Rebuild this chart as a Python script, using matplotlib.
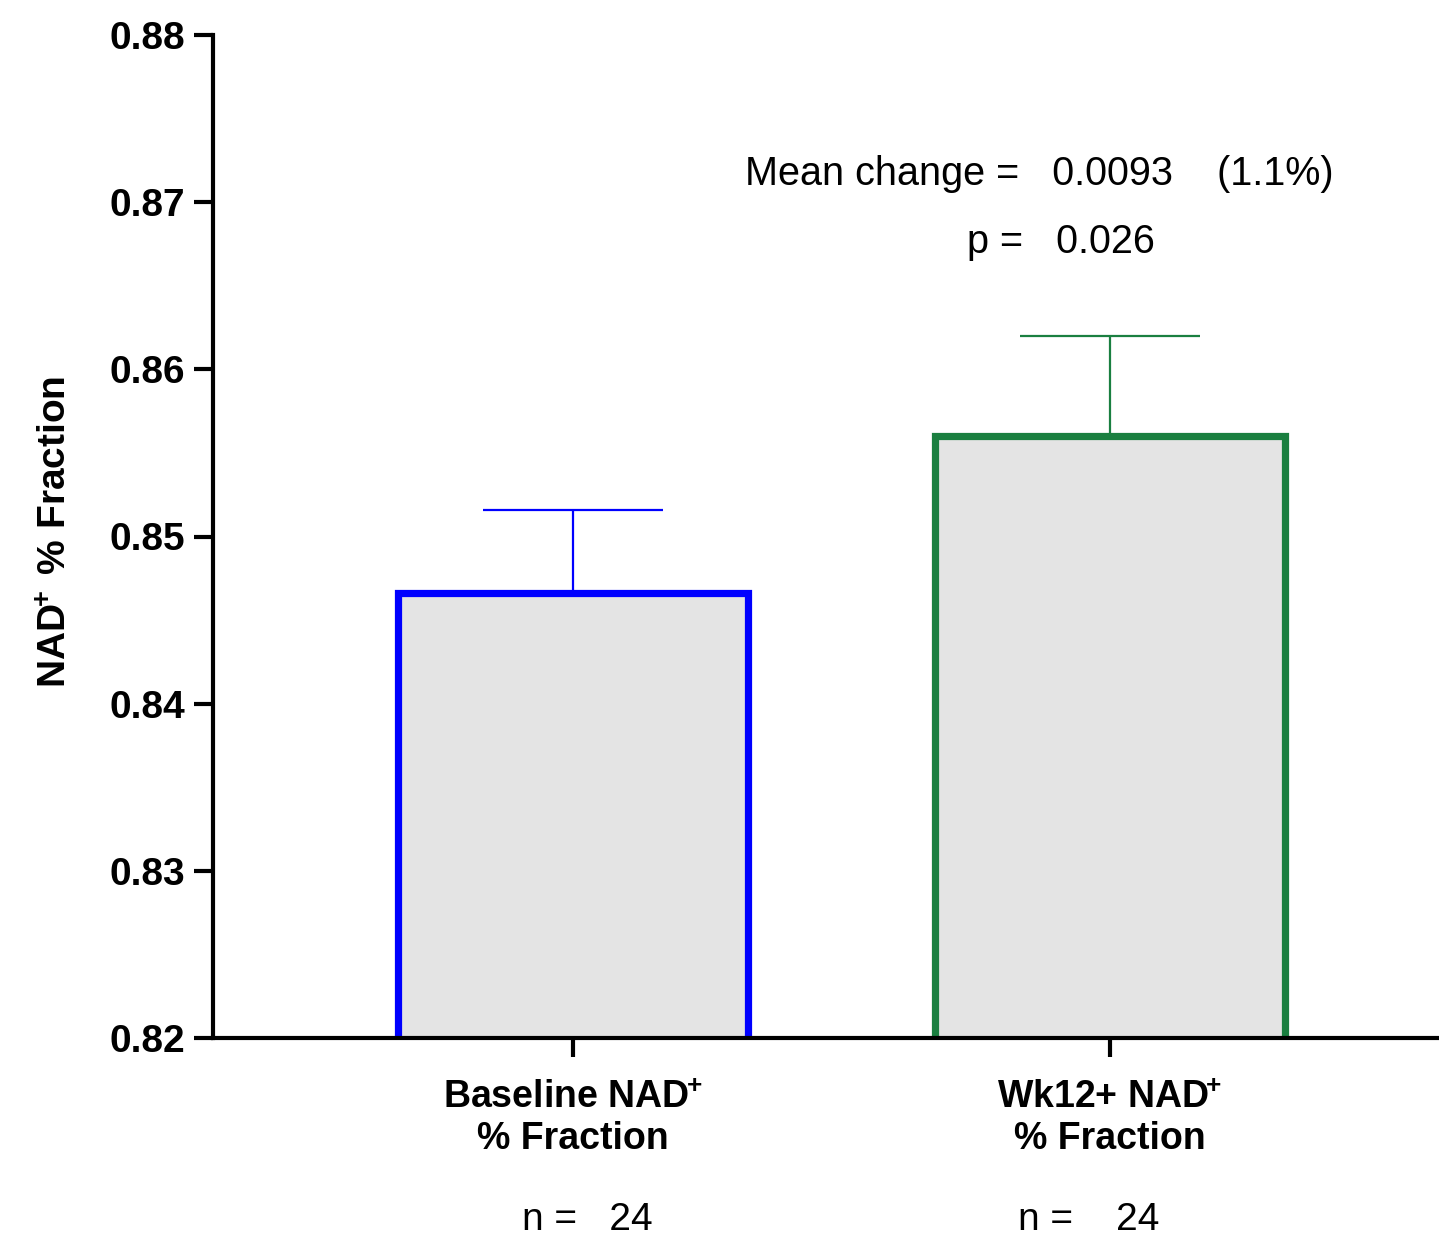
import numpy as np
import matplotlib
matplotlib.use("Agg")
import matplotlib.pyplot as plt
from matplotlib import font_manager

# data
groups = [r"Baseline NAD$^{\!\!+}$" + "\n% Fraction", r"Wk12+ NAD$^{\!\!+}$" + "\n% Fraction"]
means = [0.8466, 0.8560]
sem = [0.0050, 0.0060]
nCounts = [24, 24]
edgeColors = ["#0000ff", "#1a7f40"]
yTicks = [0.82, 0.83, 0.84, 0.85, 0.86, 0.87, 0.88]
meanChange = "0.0093"
pctChange = "1.1%"
pValue = "0.026"

plt.rcParams["font.family"] = ["Liberation Sans", "DejaVu Sans"]
plt.rcParams["mathtext.fontset"] = "custom"
plt.rcParams["mathtext.rm"] = "Liberation Sans:bold"
plt.rcParams["mathtext.it"] = "Liberation Sans:bold"
plt.rcParams["mathtext.bf"] = "Liberation Sans:bold"

names = {f.name for f in font_manager.fontManager.ttflist}
narrow = "Liberation Sans Narrow" if "Liberation Sans Narrow" in names else "Liberation Sans"

W, H = 1439, 1241
fig = plt.figure(figsize=(W / 100, H / 100), dpi=100)
ax = fig.add_axes([213 / W, (H - 1038) / H, (W - 213) / W, (1038 - 35) / H])

x = np.arange(len(groups))
ax.bar(x, means, width=0.652, bottom=0, color="#e4e4e4", edgecolor=edgeColors,
       linewidth=5.2, zorder=2)
for i in range(len(x)):
    ax.errorbar(x[i], means[i], yerr=[[0], [sem[i]]], fmt="none", ecolor=edgeColors[i],
                elinewidth=1.6, capsize=65, capthick=1.6, zorder=1)

ax.set_ylim(0.82, 0.88)
ax.set_xlim(-0.670, 1.613)
ax.set_yticks(yTicks)
ax.set_yticklabels(["%.2f" % v for v in yTicks], fontsize=28, fontweight="bold")
ax.set_xticks(x)
ax.set_xticklabels(groups, fontsize=27, fontweight="bold", linespacing=1.18)

for s in ["top", "right"]:
    ax.spines[s].set_visible(False)
for s in ["left", "bottom"]:
    ax.spines[s].set_linewidth(3)
    ax.spines[s].set_zorder(3)
ax.tick_params(axis="both", width=3, length=14)
ax.tick_params(axis="y", pad=6)
ax.tick_params(axis="x", pad=16)

fig.text(56 / W, 1 - 532 / H, r"NAD$^{\!\!+}$ % Fraction", rotation=90, ha="center",
         va="center", fontsize=28, fontweight="bold")

ax.text(0.868, 0.8717, "Mean change =   " + meanChange + "    (" + pctChange + ")",
        ha="center", va="center", fontsize=28.5, family=[narrow, "DejaVu Sans"])
ax.text(0.909, 0.8676, "p =   " + pValue, ha="center", va="center", fontsize=28.5,
        family=[narrow, "DejaVu Sans"])

nPos = [-0.095, 0.829]
nGap = ["   ", "    "]
for i in range(len(x)):
    ax.text(nPos[i], -0.181, "n =" + nGap[i] + str(nCounts[i]), transform=ax.get_xaxis_transform(),
            ha="left", va="center", fontsize=28, family=[narrow, "DejaVu Sans"])

fig.savefig("out.png", dpi=100)
